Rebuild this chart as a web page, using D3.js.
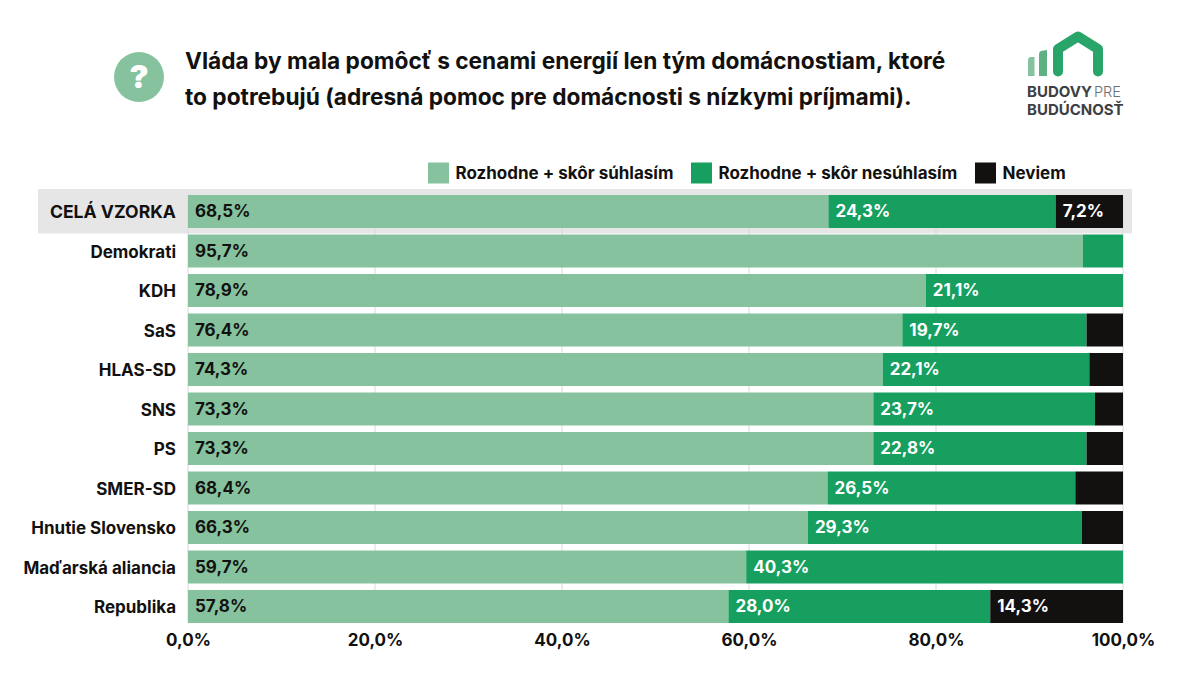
<!DOCTYPE html>
<html><head><meta charset="utf-8">
<script src="https://cdn.jsdelivr.net/npm/d3@7"></script>
<style>html,body{margin:0;background:#fff}svg{display:block}text{font-family:Inter,"Noto Sans",sans-serif;font-weight:700;fill:#121110}</style>
</head><body><svg id="c" width="1200" height="675"></svg>
<script>
const categories=["CELÁ VZORKA","Demokrati","KDH","SaS","HLAS-SD","SNS","PS","SMER-SD","Hnutie Slovensko","Maďarská aliancia","Republika"];
const agree=[68.5,95.7,78.9,76.4,74.3,73.3,73.3,68.4,66.3,59.7,57.8];
const disagree=[24.3,4.3,21.1,19.7,22.1,23.7,22.8,26.5,29.3,40.3,28.0];
const dontKnow=[7.2,0,0,3.9,3.6,3.0,3.9,5.1,4.4,0,14.3];
const hiddenLabels=["Demokrati|disagree","SaS|dontKnow","HLAS-SD|dontKnow","SNS|dontKnow","PS|dontKnow","SMER-SD|dontKnow","Hnutie Slovensko|dontKnow"];
const seriesNames=["Rozhodne + skôr súhlasím","Rozhodne + skôr nesúhlasím","Neviem"];
const seriesKeys=["agree","disagree","dontKnow"];
const colors=["#85c29d","#179f5f","#121110"];
const tickValues=[0,20,40,60,80,100];
const titleLines=["Vláda by mala pomôcť s cenami energií len tým domácnostiam, ktoré","to potrebujú (adresná pomoc pre domácnosti s nízkymi príjmami)."];

const fmt=v=>v.toFixed(1).replace(".",",")+"%";
const svg=d3.select("#c");
const x=d3.scaleLinear().domain([0,100]).range([188,1123]);
const y=d3.scaleBand().domain(categories).range([191.75,626.25]).paddingInner(0.165).paddingOuter(0.0825);
const rows=categories.map((c,i)=>({c,agree:agree[i],disagree:disagree[i],dontKnow:dontKnow[i]}));
const stack=d3.stack().keys(seriesKeys).order(d3.stackOrderNone)(rows);

// highlight band
svg.append("rect").attr("x",38).attr("y",y(categories[0])-6).attr("width",1094).attr("height",y.bandwidth()+11.5).attr("fill","#e6e6e6");

// grid
svg.append("g").selectAll("line").data(tickValues).join("line")
 .attr("x1",d=>x(d)).attr("x2",d=>x(d)).attr("y1",y(categories[0])).attr("y2",y(categories[10])+y.bandwidth())
 .attr("stroke","#d9d9d9").attr("stroke-width",1);

// bars
stack.forEach((s,si)=>{
 const g=svg.append("g");
 s.forEach((d,i)=>{
  const a=Math.min(d[0],100),b=Math.min(d[1],100);
  const w=x(b)-x(a); if(w<=0) return;
  g.append("rect").attr("x",x(a)).attr("y",y(categories[i])).attr("width",w).attr("height",y.bandwidth())
   .attr("fill",colors[si]);
  const hidden=hiddenLabels.includes(categories[i]+"|"+seriesKeys[si]);
  if(!hidden) g.append("text").attr("x",x(a)+7).attr("y",y(categories[i])+y.bandwidth()/2+5.5)
   .attr("font-size",17).style("fill",si==0?"#121110":"#fff").text(fmt(d[1]-d[0]));
 });
});

// category labels
svg.append("g").selectAll("text").data(categories).join("text")
 .attr("x",176).attr("y",d=>y(d)+y.bandwidth()/2+6.5).attr("text-anchor","end").attr("font-size",d=>d==categories[0]?17.6:17).text(d=>d);

// axis
const axis=d3.axisBottom(x).tickValues(tickValues).tickFormat(fmt).tickSize(0).tickPadding(0);
const ax=svg.append("g").attr("transform","translate(0,646)").call(axis);
ax.select(".domain").remove();
ax.selectAll("text").attr("dy",0).attr("font-size",17).attr("fill",null).style("font-family","Inter").style("font-weight",700);

// legend
const legendX=[428,691,975],legendY=162.5;
seriesNames.forEach((n,i)=>{
 svg.append("rect").attr("x",legendX[i]).attr("y",legendY).attr("width",21).attr("height",21).attr("fill",colors[i]);
 svg.append("text").attr("x",legendX[i]+27.5).attr("y",legendY+16.5).attr("font-size",17).text(n);
});

// title
titleLines.forEach((t,i)=>svg.append("text").attr("x",185).attr("y",69+i*35.5).attr("font-size",22.7).text(t));
svg.append("circle").attr("cx",139).attr("cy",77).attr("r",25).attr("fill","#85c29d");
svg.append("text").attr("x",139).attr("y",88).attr("text-anchor","middle").attr("font-size",32).style("font-weight",900).style("fill","#fff").text("?");

// logo
const logo=svg.append("g");
logo.append("path").attr("d","M1028 76V60q0-3 3-3h3.5v19z").attr("fill","#85c29d");
logo.append("path").attr("d","M1039 76V54q0-2 2-3l6-1v26z").attr("fill","#5fb184");
logo.append("path").attr("d","M1058 71.500V49L1078 36.500L1098 49V71.500").attr("fill","none").attr("stroke","#2aa56a").attr("stroke-width",10).attr("stroke-linejoin","round").attr("stroke-linecap","round");
logo.append("text").attr("x",1027).attr("y",97).attr("font-size",15).style("fill","#3c4043").text("BUDOVY");
logo.append("text").attr("x",1094).attr("y",97).attr("font-size",14.5).style("font-weight",300).style("fill","#6b6f72").text("PRE");
logo.append("text").attr("x",1027).attr("y",115).attr("font-size",15).style("fill","#3c4043").text("BUDÚCNOSŤ");
</script></body></html>
